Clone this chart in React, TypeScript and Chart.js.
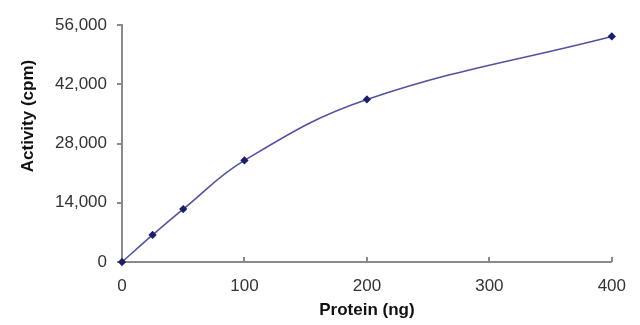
import React, { useEffect, useRef } from "react";
import { Chart, registerables } from "chart.js";

Chart.register(...registerables);

const proteinNg = [0, 25, 50, 100, 200, 400];
const activityCpm = [0, 6400, 12500, 24000, 38400, 53300];
const xTicks = [0, 100, 200, 300, 400];
const yTicks = [0, 14000, 28000, 42000, 56000];
const xTitle = "Protein (ng)";
const yTitle = "Activity (cpm)";

const AXIS_COLOR = "#8a8a8a";
const TEXT_COLOR = "#333333";
const FONT = "'Liberation Sans', Arial, sans-serif";

const innerXTicks = {
  id: "innerXTicks",
  afterDraw(chart: any) {
    const xs = chart.scales.x;
    const area = chart.chartArea;
    const ctx = chart.ctx;
    ctx.save();
    ctx.strokeStyle = AXIS_COLOR;
    ctx.lineWidth = 2;
    xTicks.forEach((v) => {
      if (v === 0) return;
      const px = Math.round(xs.getPixelForValue(v));
      ctx.beginPath();
      ctx.moveTo(px, area.bottom);
      ctx.lineTo(px, area.bottom - 5);
      ctx.stroke();
    });
    // y-axis title, placed slightly above the axis centre as in the reference
    ctx.translate(28, 116);
    ctx.rotate(-Math.PI / 2);
    ctx.fillStyle = "#111111";
    ctx.font = `bold 17px ${FONT}`;
    ctx.textAlign = "center";
    ctx.textBaseline = "middle";
    ctx.fillText(yTitle, 0, 0);
    ctx.restore();
  },
};

export default function App() {
  const ref = useRef<HTMLCanvasElement>(null);
  useEffect(() => {
    if (!ref.current) return;
    const chart = new Chart(ref.current, {
      type: "line",
      data: {
        datasets: [
          {
            data: proteinNg.map((x, i) => ({ x, y: activityCpm[i] })),
            borderColor: "#5252a3",
            borderWidth: 1.6,
            backgroundColor: "#1e1e6e",
            pointBackgroundColor: "#1e1e6e",
            pointBorderColor: "#1e1e6e",
            pointStyle: "rectRot",
            pointRadius: 3,
            tension: 0.4,
            fill: false,
            clip: false as any,
          },
        ],
      },
      options: {
        animation: false,
        responsive: false,
        maintainAspectRatio: false,
        layout: { padding: { top: 25, right: 28, left: 0, bottom: 0 } },
        plugins: { legend: { display: false }, tooltip: { enabled: false } },
        scales: {
          x: {
            type: "linear",
            min: 0,
            max: 400,
            afterBuildTicks: (s: any) => {
              s.ticks = xTicks.map((v) => ({ value: v }));
            },
            afterFit: (s: any) => {
              s.height = 63;
            },
            grid: { drawOnChartArea: false, drawTicks: false },
            border: { color: AXIS_COLOR, width: 2 },
            ticks: {
              padding: 14,
              color: TEXT_COLOR,
              font: { family: FONT, size: 17 },
            },
            title: {
              display: true,
              text: xTitle,
              color: "#111111",
              font: { family: FONT, size: 17, weight: "bold", lineHeight: 1 },
              padding: { top: 0, bottom: 6 },
            },
          },
          y: {
            type: "linear",
            min: 0,
            max: 56000,
            afterBuildTicks: (s: any) => {
              s.ticks = yTicks.map((v) => ({ value: v }));
            },
            afterFit: (s: any) => {
              s.width = 122;
            },
            grid: { drawOnChartArea: false, drawTicks: true, tickLength: 5, color: AXIS_COLOR, lineWidth: 2 },
            border: { color: AXIS_COLOR, width: 2 },
            ticks: {
              padding: 10,
              color: TEXT_COLOR,
              font: { family: FONT, size: 17 },
              callback: (v: any) => Number(v).toLocaleString("en-US"),
            },
            title: { display: false },
          },
        },
      },
      plugins: [innerXTicks],
    });
    return () => chart.destroy();
  }, []);
  return (
    <div style={{ position: "fixed", left: 0, top: 0, width: 640, height: 325, background: "#fff" }}>
      <canvas ref={ref} width={640} height={325} style={{ display: "block" }} />
    </div>
  );
}
